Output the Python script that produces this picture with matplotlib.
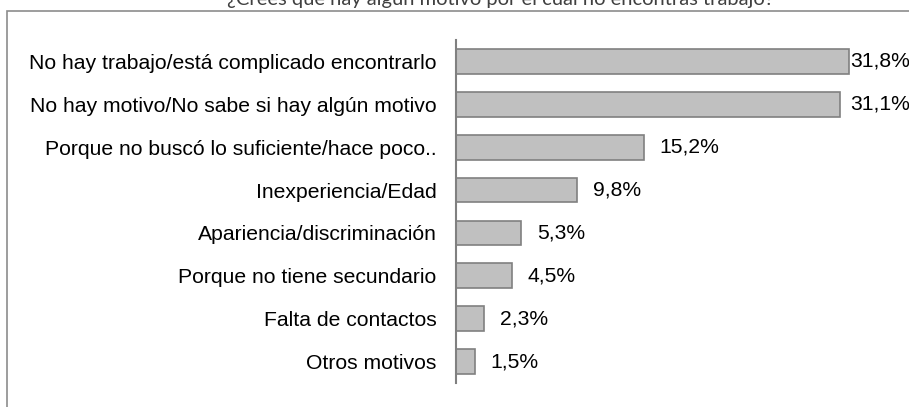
import matplotlib
matplotlib.use("Agg")
import matplotlib.pyplot as plt
from matplotlib.patches import Rectangle

categories = [
    "No hay trabajo/está complicado encontrarlo",
    "No hay motivo/No sabe si hay algún motivo",
    "Porque no buscó lo suficiente/hace poco..",
    "Inexperiencia/Edad",
    "Apariencia/discriminación",
    "Porque no tiene secundario",
    "Falta de contactos",
    "Otros motivos",
]
values = [31.8, 31.1, 15.2, 9.8, 5.3, 4.5, 2.3, 1.5]
value_labels = ["31,8%", "31,1%", "15,2%", "9,8%", "5,3%", "4,5%", "2,3%", "1,5%"]
title = "¿Creés que hay algún motivo por el cual no encontrás trabajo?"

plt.rcParams["font.family"] = ["Liberation Sans", "DejaVu Sans"]

W, H = 909, 407
fig = plt.figure(figsize=(W / 100, H / 100), dpi=100)

# outer frame (only top and left edges are visible in the crop)
frame = Rectangle((7.5 / W, -0.1), 1.2, (H - 11) / H + 0.1,
                  transform=fig.transFigure, fill=False,
                  edgecolor="#8c8c8c", linewidth=1.2)
fig.patches.append(frame)

# title, cut off at the top of the image like in the source
fig.text(500 / W, (H - 5) / H, title, ha="center", va="baseline",
         fontsize=14.5, color="#404040", family=["Lato", "DejaVu Sans"])

ax = fig.add_axes([456 / W, 24 / H, 420 / W, 343 / H])
y = list(range(len(categories)))
ax.barh(y, values, height=0.58, color="#c0c0c0", edgecolor="#808080",
        linewidth=1.2)
ax.set_xlim(0, 34)
ax.set_ylim(len(categories) - 0.5, -0.5)

ax.set_yticks(y)
ax.set_yticklabels(categories, fontsize=15.2)
ax.tick_params(axis="y", length=0, pad=14)
ax.set_xticks([])

for s in ["top", "right", "bottom"]:
    ax.spines[s].set_visible(False)
ax.spines["left"].set_color("#808080")
ax.spines["left"].set_linewidth(1.5)

for i, (v, lab) in enumerate(zip(values, value_labels)):
    xpos = min(v + 1.25, 31.9)
    ax.text(xpos, i, lab, va="center", ha="left", fontsize=15.2)

fig.savefig("out.png", dpi=100)
